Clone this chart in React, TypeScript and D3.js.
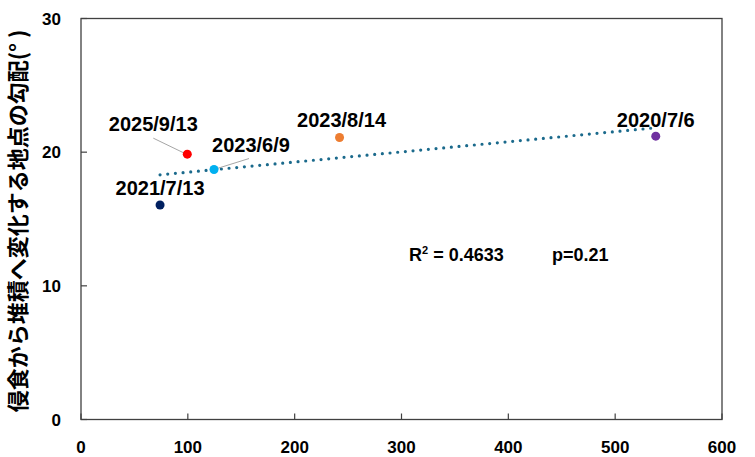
import React from "react";
import * as d3 from "d3";

const labels = ["2021/7/13", "2025/9/13", "2023/6/9", "2023/8/14", "2020/7/6"];
const xValues = [74, 99.5, 124.5, 242, 538];
const yValues = [16.05, 19.85, 18.7, 21.1, 21.2];
const colors = ["#002060", "#FF0000", "#00B0F0", "#ED7D31", "#7030A0"];
const xTicks = [0, 100, 200, 300, 400, 500, 600];
const yTicks = [0, 10, 20, 30];
const statsText = "0.4633";
const pText = "p=0.21";
const yTitle = "侵食から堆積へ変化する地点の勾配(° )";

// label layout (offset of label center/baseline relative to point, in px)
const labelOffsets = [
  [0, -10],
  [-34, -23],
  [37, -18],
  [2, -10],
  [0, -9],
];
const leaderLines = [false, true, true, false, false];

const W = 755;
const H = 457;
const M = { left: 81, right: 33, top: 18.5, bottom: 37.5 };

export default function App() {
  const x = d3.scaleLinear().domain([0, 600]).range([M.left, W - M.right]);
  const y = d3.scaleLinear().domain([0, 30]).range([H - M.bottom, M.top]);

  // linear regression trend line
  const mx = d3.mean(xValues)!;
  const my = d3.mean(yValues)!;
  const sxy = d3.sum(xValues.map((v, i) => (v - mx) * (yValues[i] - my)));
  const sxx = d3.sum(xValues.map((v) => (v - mx) ** 2));
  const slope = sxy / sxx;
  const intercept = my - slope * mx;
  const x0 = d3.min(xValues)!;
  const x1 = d3.max(xValues)!;
  const line = d3.line<number>()
    .x((d) => x(d))
    .y((d) => y(intercept + slope * d));

  const font = "'Liberation Sans', Arial, sans-serif";
  const axisColor = "#404040";

  return (
    <svg width={W} height={H} style={{ position: "absolute", left: 0, top: 0, background: "#fff" }}>
      {/* frame */}
      <rect x={x(0)} y={y(30)} width={x(600) - x(0)} height={y(0) - y(30)} fill="none" stroke={axisColor} strokeWidth={1.3} />
      {/* x ticks */}
      {xTicks.map((t) => (
        <g key={"x" + t}>
          <line x1={x(t)} x2={x(t)} y1={y(0)} y2={y(0) - 6} stroke={axisColor} strokeWidth={1.2} />
          <text x={x(t)} y={y(0) + 33} textAnchor="middle" fontFamily={font} fontWeight="bold" fontSize={17} fill="#000">{t}</text>
        </g>
      ))}
      {/* y ticks */}
      {yTicks.map((t) => (
        <g key={"y" + t}>
          <line x1={x(0)} x2={x(0) + 6} y1={y(t)} y2={y(t)} stroke={axisColor} strokeWidth={1.2} />
          <text x={x(0) - 20} y={y(t) + 6} textAnchor="end" fontFamily={font} fontWeight="bold" fontSize={17} fill="#000">{t}</text>
        </g>
      ))}
      {/* y title */}
      <text
        transform={`translate(26, ${(y(0) + y(30)) / 2 + 2}) rotate(-90)`}
        textAnchor="middle"
        fontFamily="'Noto Sans CJK JP', sans-serif"
        fontWeight="bold"
        fontSize={22}
        fill="#000"
      >{yTitle}</text>
      {/* trend line */}
      <path d={line([x0, x1]) || ""} fill="none" stroke="#1B6A8C" strokeWidth={3.2} strokeLinecap="round" strokeDasharray="0 7.7" />
      {/* leader lines */}
      {xValues.map((v, i) =>
        leaderLines[i] ? (
          <line key={"l" + i}
            x1={x(v) + labelOffsets[i][0] + (labelOffsets[i][0] < 0 ? 0 : -2)}
            y1={y(yValues[i]) + labelOffsets[i][1] + 7}
            x2={x(v) - (labelOffsets[i][0] < 0 ? 3 : -3)}
            y2={y(yValues[i]) - 1}
            stroke="#A6A6A6" strokeWidth={1} />
        ) : null
      )}
      {/* points */}
      {xValues.map((v, i) => (
        <circle key={"p" + i} cx={x(v)} cy={y(yValues[i])} r={4.5} fill={colors[i]} />
      ))}
      {/* labels */}
      {xValues.map((v, i) => (
        <text key={"t" + i} x={x(v) + labelOffsets[i][0]} y={y(yValues[i]) + labelOffsets[i][1]}
          textAnchor="middle" fontFamily={font} fontWeight="bold" fontSize={20} fill="#000">{labels[i]}</text>
      ))}
      {/* stats */}
      <text x={409} y={261} fontFamily={font} fontWeight="bold" fontSize={18} fill="#000">
        R<tspan dy={-7} fontSize={11}>2</tspan><tspan dy={7}>{" = " + statsText}</tspan>
      </text>
      <text x={552} y={261} fontFamily={font} fontWeight="bold" fontSize={18} fill="#000">{pText}</text>
    </svg>
  );
}
